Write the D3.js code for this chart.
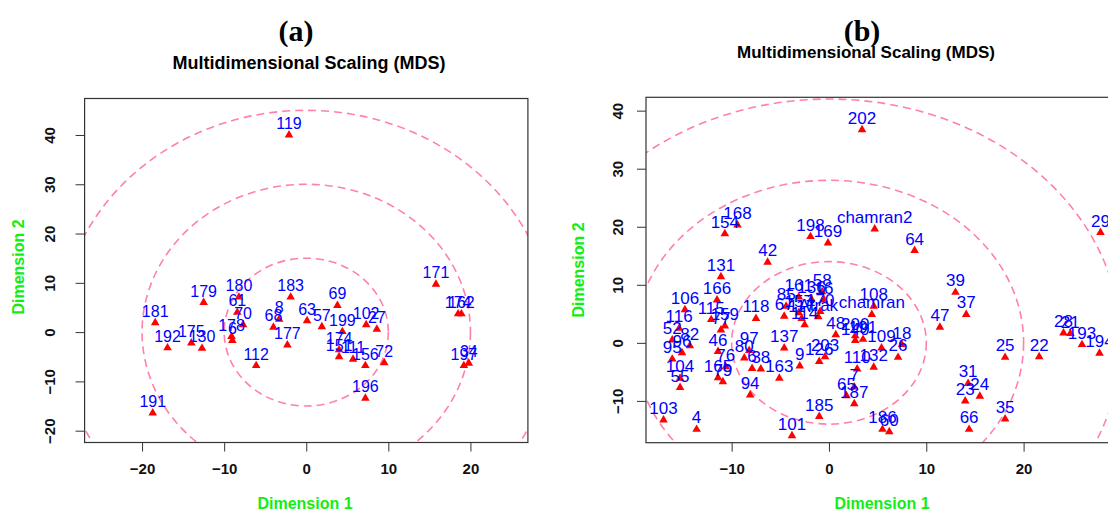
<!DOCTYPE html>
<html><head><meta charset="utf-8">
<script src="https://cdn.jsdelivr.net/npm/d3@7"></script>
<style>body{margin:0;background:#fff}</style>
</head><body>
<svg id="chart" width="1108" height="511"></svg>
<script>
// ---------- DATA ----------
// Panel (a)
const labelsA = ["119","179","180","61","70","178","6","181","192","175","130","112","183","8","68","177","63","57","69","199","174","151","111","156","72","102","27","196","171","174","162","197","34","191"];
const dim1A   = [-2.1,-12.5,-8.2,-8.4,-7.7,-9.1,-9.0,-18.4,-16.9,-14.0,-12.7,-6.1,-1.9,-3.3,-4.0,-2.3,0.1,1.9,3.8,4.4,4.0,4.0,5.7,7.2,9.5,7.3,8.6,7.2,15.8,18.5,18.9,19.2,19.8,-18.7];
const dim2A   = [40.0,6.0,7.1,4.0,1.5,-0.9,-1.7,1.9,-3.2,-2.2,-3.3,-6.8,7.1,2.6,1.0,-2.6,2.3,1.1,5.4,0.1,-3.6,-5.0,-5.5,-6.8,-6.2,1.5,0.6,-13.4,9.7,3.7,3.7,-6.8,-6.3,-16.4];
const xTicksA = [-20,-10,0,10,20];
const yTicksA = [-20,-10,0,10,20,30,40];
const ringRxA = [10,20,30];
const ringRyA = [15,30,45];

// Panel (b)
const labelsB = ["202","168","154","198","169","chamran2","64","42","131","166","106","116","52","82","96","95","104","55","115","159","77","46","76","165","79","118","97","80","6","38","163","137","94","103","4","101","185","9","126","203","85","67","157","117","114","Atrak","170","161","136","58","16","48","200","140","191","109","18","26","110","132","7","65","187","186","60","108","chamran","39","37","47","25","22","28","21","193","194","29","31","23","24","35","66"];
const dim1B   = [3.4,-9.4,-10.7,-1.9,-0.1,4.7,8.8,-6.3,-11.1,-11.5,-14.8,-15.4,-16.1,-14.3,-15.1,-16.1,-15.3,-15.3,-12.1,-10.7,-11.1,-11.4,-10.6,-11.4,-10.9,-7.5,-8.2,-8.7,-7.9,-7.0,-5.1,-4.6,-8.1,-17.0,-13.6,-3.8,-1.0,-3.0,-1.0,-0.4,-4.4,-4.6,-3.1,-2.8,-2.5,-1.1,-0.9,-3.1,-1.8,-0.7,-0.5,0.7,2.7,2.7,3.5,5.4,7.5,7.1,2.9,4.6,2.6,1.8,2.6,5.5,6.2,4.6,4.4,13.0,14.1,11.4,18.1,21.6,24.1,24.8,26.0,27.8,27.9,14.3,14.0,15.5,18.1,14.4];
const dim2B   = [36.7,20.3,18.8,18.3,17.2,19.6,15.9,13.9,11.4,7.4,5.7,2.5,0.5,-0.5,-1.7,-2.8,-6.1,-7.7,4.0,2.9,2.2,-1.5,-4.1,-6.0,-6.7,4.2,-1.3,-2.6,-4.4,-4.5,-6.1,-0.9,-9.0,-13.3,-14.9,-16.0,-12.7,-4.0,-3.2,-2.4,6.3,4.6,5.2,4.2,3.1,4.5,5.4,7.9,7.5,8.8,7.4,1.4,1.2,0.4,0.6,-0.9,-0.3,-2.5,-4.5,-4.2,-7.6,-9.1,-10.5,-14.9,-15.3,6.3,4.9,8.7,4.9,2.7,-2.5,-2.4,1.7,1.6,-0.3,-1.8,19.0,-7.0,-10.0,-9.2,-13.1,-14.9];
const xTicksB = [-10,0,10,20];
const yTicksB = [-10,0,10,20,30,40];
const ringRxB = [10,20,30];
const ringRyB = [14,28,42];

const panelTags  = ["(a)","(b)"];
const mainTitle  = "Multidimensional Scaling (MDS)";
const xTitle     = "Dimension 1";
const yTitle     = "Dimension 2";

// ---------- LAYOUT ----------
const svg = d3.select("#chart");
const panels = [
  { id:"a", labels:labelsA, xs:dim1A, ys:dim2A, xTicks:xTicksA, yTicks:yTicksA, rx:ringRxA, ry:ringRyA,
    box:{x0:84.6, x1:527.9, y0:98.5, y1:442.5}, xDom:[-27,27], yDom:[-22.4,47.4],
    tag:panelTags[0], tagX:296, tagY:41, titleX:309, titleY:69, titleSize:18,
    xTitleX:305, yTitleX:18, yTitleY:267, yTickX:50, labSize:16 },
  { id:"b", labels:labelsB, xs:dim1B, ys:dim2B, xTicks:xTicksB, yTicks:yTicksB, rx:ringRxB, ry:ringRyB,
    box:{x0:646, x1:1118, y0:97.3, y1:442.7}, xDom:[-18.8,29.7], yDom:[-17.2,42.3],
    tag:panelTags[1], tagX:862, tagY:41, titleX:866, titleY:58, titleSize:17,
    xTitleX:882, yTitleX:578, yTitleY:270, yTickX:618, labSize:17 }
];

panels.forEach(p => {
  const b = p.box;
  const x = d3.scaleLinear().domain(p.xDom).range([b.x0, b.x1]);
  const y = d3.scaleLinear().domain(p.yDom).range([b.y1, b.y0]);
  const g = svg.append("g");

  // titles
  g.append("text").attr("x", p.tagX).attr("y", p.tagY).attr("text-anchor","middle")
    .attr("font-family","Liberation Serif, Times New Roman, serif").attr("font-weight","bold")
    .attr("font-size",30).attr("fill","#000").text(p.tag);
  g.append("text").attr("x", p.titleX).attr("y", p.titleY).attr("text-anchor","middle")
    .attr("font-family","Liberation Sans, Arial, sans-serif").attr("font-weight","bold")
    .attr("font-size",p.titleSize).attr("fill","#000").text(mainTitle);

  // clip
  const clipId = "clip-" + p.id;
  svg.append("clipPath").attr("id", clipId).append("rect")
    .attr("x", b.x0).attr("y", b.y0).attr("width", b.x1-b.x0).attr("height", b.y1-b.y0);

  // rings
  g.append("g").attr("clip-path", `url(#${clipId})`).selectAll("ellipse")
    .data(p.rx.map((r,i)=>({rx:r, ry:p.ry[i]})))
    .join("ellipse")
    .attr("cx", x(0)).attr("cy", y(0))
    .attr("rx", d => x(d.rx) - x(0)).attr("ry", d => y(0) - y(d.ry))
    .attr("fill","none").attr("stroke","#ff80ad").attr("stroke-width",1.6)
    .attr("stroke-dasharray","8,5");

  // box
  g.append("rect").attr("x", b.x0).attr("y", b.y0).attr("width", b.x1-b.x0).attr("height", b.y1-b.y0)
    .attr("fill","none").attr("stroke","#333").attr("stroke-width",1.2);

  // axes
  const xAxis = d3.axisBottom(x).tickValues(p.xTicks).tickSize(9).tickPadding(12).tickFormat(d3.format("d"));
  const ax = g.append("g").attr("transform", `translate(0,${b.y1})`).call(xAxis);
  ax.select(".domain").remove();
  ax.selectAll("line").attr("stroke","#333");
  ax.selectAll("text").attr("font-family","Liberation Sans, Arial, sans-serif").attr("font-weight","bold")
    .attr("font-size",15).attr("fill","#111");

  const yAxis = d3.axisLeft(y).tickValues(p.yTicks).tickSize(9).tickFormat(d3.format("d"));
  const ay = g.append("g").attr("transform", `translate(${b.x0},0)`).call(yAxis);
  ay.select(".domain").remove();
  ay.selectAll("line").attr("stroke","#333");
  ay.selectAll("text").attr("x", null).attr("dy", null)
    .attr("transform", d => `translate(${p.yTickX - b.x0},${0}) rotate(-90)`)
    .attr("text-anchor","middle").attr("dy","0.35em")
    .attr("font-family","Liberation Sans, Arial, sans-serif").attr("font-weight","bold")
    .attr("font-size",15).attr("fill","#111");

  // axis titles
  g.append("text").attr("x", p.xTitleX).attr("y", 509).attr("text-anchor","middle")
    .attr("font-family","Liberation Sans, Arial, sans-serif").attr("font-weight","bold")
    .attr("font-size",16).attr("fill","#11ee11").text(xTitle);
  g.append("text").attr("transform", `translate(${p.yTitleX},${p.yTitleY}) rotate(-90)`)
    .attr("text-anchor","middle").attr("dy","0.35em")
    .attr("font-family","Liberation Sans, Arial, sans-serif").attr("font-weight","bold")
    .attr("font-size",16).attr("fill","#11ee11").text(yTitle);

  // points
  const pts = p.labels.map((l,i)=>({label:l, dx:p.xs[i], dy:p.ys[i]}));
  g.append("g").selectAll("path").data(pts).join("path")
    .attr("transform", d => `translate(${x(d.dx)},${y(d.dy)})`)
    .attr("d", d3.symbol(d3.symbolTriangle, 32))
    .attr("fill","#ff0000");
  g.append("g").selectAll("text").data(pts).join("text")
    .attr("x", d => x(d.dx)).attr("y", d => y(d.dy) - 6)
    .attr("text-anchor","middle")
    .attr("font-family","Liberation Sans, Arial, sans-serif")
    .attr("font-size", p.labSize).attr("fill","#0000ff").text(d => d.label);
});
</script>
</body></html>
